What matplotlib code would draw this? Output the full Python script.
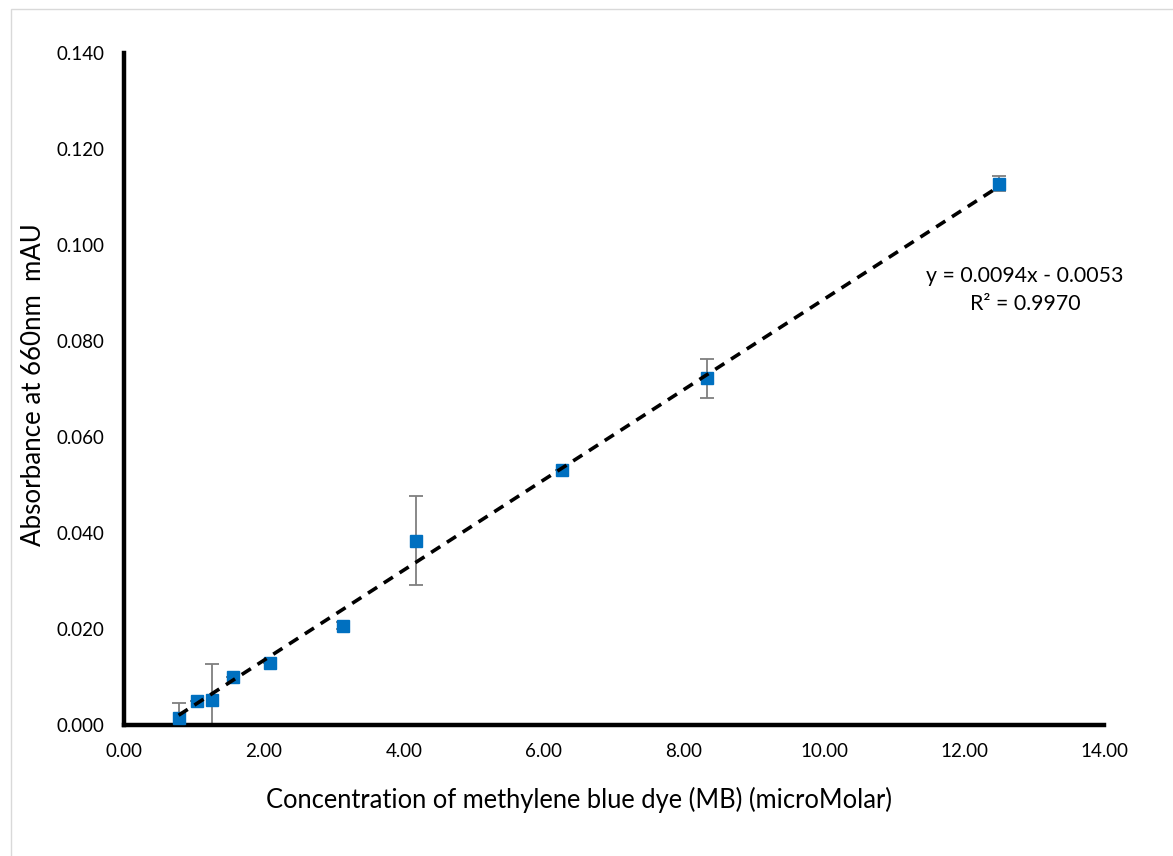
import numpy as np
import matplotlib.pyplot as plt
from matplotlib.patches import Rectangle

# MB calibration data (concentration in microMolar, absorbance at 660 nm)
conc = [0.78, 1.04, 1.25, 1.5625, 2.083, 3.125, 4.17, 6.25, 8.33, 12.5]
absorb = [0.0015, 0.0051, 0.0053, 0.0100, 0.0130, 0.0207, 0.0384, 0.0532, 0.0722, 0.1128]
err = [0.0030, 0.0, 0.0075, 0.0, 0.0, 0.0008, 0.0093, 0.0, 0.0041, 0.0016]

slope = 0.0094
intercept = -0.0053
r2 = 0.9970

xticks = [0, 2, 4, 6, 8, 10, 12, 14]
yticks = [0, 0.02, 0.04, 0.06, 0.08, 0.10, 0.12, 0.14]

plt.rcParams['font.family'] = ['Lato', 'DejaVu Sans']

W, H = 1173, 856
fig = plt.figure(figsize=(W / 100, H / 100), dpi=100)
# light chart border like the spreadsheet chart area
fig.patches.append(Rectangle((11 / W, -0.05), 1.2, 1 - 9 / H + 0.05,
                             transform=fig.transFigure, fill=False,
                             edgecolor='#d9d9d9', linewidth=1))

ax = fig.add_axes([124 / W, 1 - 725 / H, 980 / W, 672 / H])

ax.errorbar(conc, absorb, yerr=err, fmt='none', ecolor='#7f7f7f',
            elinewidth=1.3, capsize=5, capthick=1.3, zorder=2)
ax.plot(conc, absorb, 's', color='#0070c0', markersize=9, zorder=3)

xfit = np.array([min(conc), max(conc)])
ax.plot(xfit, slope * xfit + intercept, '--', color='black', linewidth=2.6,
        dashes=(3, 2.2), zorder=4)

fig.text(1025 / W, 1 - 276 / H, 'y = %.4fx - %.4f' % (slope, -intercept),
         fontsize=15.3, ha='center', va='center')
fig.text(1025 / W, 1 - 304 / H, 'R² = %.4f' % r2,
         fontsize=15.3, ha='center', va='center')

ax.set_xlim(0, 14)
ax.set_ylim(0, 0.14)
ax.set_xticks(xticks)
ax.set_yticks(yticks)
ax.set_xticklabels(['%.2f' % v for v in xticks])
ax.set_yticklabels(['%.3f' % v for v in yticks])
ax.tick_params(length=0, labelsize=13.5)
ax.tick_params(axis='x', pad=13)
ax.tick_params(axis='y', pad=14)

for s in ['top', 'right']:
    ax.spines[s].set_visible(False)
for s in ['left', 'bottom']:
    ax.spines[s].set_linewidth(3.2)
    ax.spines[s].set_color('black')

ax.set_xlabel('Concentration of methylene blue dye (MB) (microMolar)', fontsize=18.4)
ax.set_ylabel('Absorbance at 660nm  mAU', fontsize=18.6)
ax.xaxis.set_label_coords(0.464, -0.092)
ax.yaxis.set_label_coords(-0.08, 0.506)

fig.savefig('out.png', dpi=100)
